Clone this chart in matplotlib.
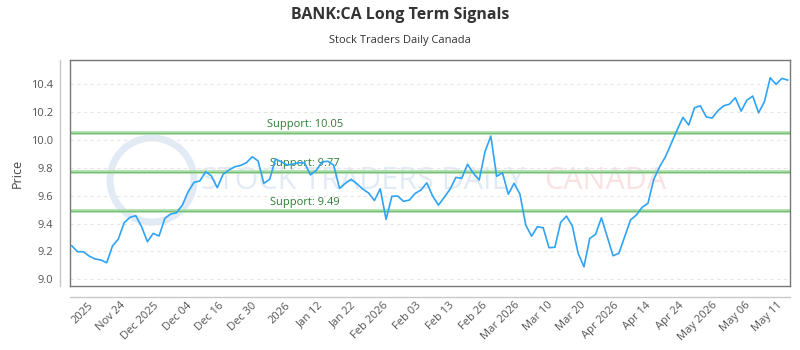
import numpy as np
import matplotlib
matplotlib.use('Agg')
import matplotlib.pyplot as plt
from matplotlib.lines import Line2D
from matplotlib.patches import Ellipse

plt.rcParams['font.family'] = ['Open Sans', 'DejaVu Sans']

# ── Data ──────────────────────────────────────────────────────────
prices = [
    9.241, 9.198, 9.198, 9.167, 9.146, 9.139, 9.119, 9.239, 9.289, 9.406,
    9.445, 9.457, 9.378, 9.270, 9.330, 9.311, 9.438, 9.469, 9.478, 9.533,
    9.629, 9.696, 9.706, 9.772, 9.742, 9.658, 9.754, 9.785, 9.808, 9.818,
    9.837, 9.880, 9.851, 9.689, 9.718, 9.864, 9.844, 9.820, 9.828, 9.837,
    9.837, 9.750, 9.782, 9.843, 9.848, 9.820, 9.653, 9.689, 9.718, 9.686,
    9.648, 9.620, 9.566, 9.650, 9.431, 9.596, 9.598, 9.560, 9.569, 9.617,
    9.641, 9.693, 9.598, 9.533, 9.589, 9.648, 9.732, 9.725, 9.826, 9.761,
    9.713, 9.916, 10.029, 9.740, 9.765, 9.612, 9.689, 9.612, 9.390, 9.310,
    9.378, 9.370, 9.227, 9.230, 9.409, 9.454, 9.383, 9.187, 9.090, 9.294,
    9.323, 9.442, 9.306, 9.169, 9.187, 9.306, 9.426, 9.462, 9.517, 9.546,
    9.718, 9.808, 9.880, 9.976, 10.072, 10.163, 10.108, 10.232, 10.246, 10.167,
    10.158, 10.210, 10.246, 10.258, 10.304, 10.208, 10.287, 10.316, 10.196, 10.275,
    10.447, 10.400, 10.443, 10.431,
]
x_labels = ['2025', 'Nov 24', 'Dec 2025', 'Dec 04', 'Dec 16', 'Dec 30', '2026',
            'Jan 12', 'Jan 22', 'Feb 2026', 'Feb 03', 'Feb 13', 'Feb 26',
            'Mar 2026', 'Mar 10', 'Mar 20', 'Apr 2026', 'Apr 14', 'Apr 24',
            'May 2026', 'May 06', 'May 11']
support_levels = [10.05, 9.77, 9.49]
y_ticks = [9.0, 9.2, 9.4, 9.6, 9.8, 10.0, 10.2, 10.4]

# ── Figure ────────────────────────────────────────────────────────
fig = plt.figure(figsize=(8, 3.5), dpi=100)
ax = fig.add_axes([70 / 800, 1 - 286 / 350, 720 / 800, 226 / 350])

xs = np.arange(len(prices))
ax.set_xlim(-0.3, len(prices) - 0.6)
ax.set_ylim(8.952, 10.575)

# watermark
ax.add_patch(Ellipse((152 / 800, 1 - 180 / 350), 84 / 800, 84 / 350,
                     transform=fig.transFigure, fill=False, lw=5, ec='#e2ebf5', zorder=0))
ax.text(0.182, 0.465, 'STOCK TRADERS DAILY', transform=ax.transAxes, fontsize=22,
        fontweight='medium', color='#e2ebf5', ha='left', va='center', zorder=0)
ax.text(0.658, 0.465, 'CANADA', transform=ax.transAxes, fontsize=22,
        fontweight='medium', color='#fbe2e2', ha='left', va='center', zorder=0)

# grid
for yt in y_ticks:
    ax.axhline(yt, color='#e6e6e6', lw=0.8, ls=(0, (3, 3)), zorder=1)

# support lines
for lvl in support_levels:
    ax.axhline(lvl, color='#a9dba9', lw=2.6, zorder=2)
    ax.axhline(lvl, color='#73bf73', lw=0.7, zorder=2)
    ax.text(0.326, lvl + 0.022, f'Support: {lvl:.2f}', transform=ax.get_yaxis_transform(),
            ha='center', va='bottom', fontsize=8, color='#2e7d32', zorder=3)

ax.plot(xs, prices, color='#2fa3f5', lw=1.2, zorder=4)

# axes styling
for sp in ax.spines.values():
    sp.set_color('#777777')
    sp.set_linewidth(1.0)
ax.set_yticks(y_ticks)
ax.set_yticklabels([f'{v:.1f}' for v in y_ticks])
tick_pos = np.linspace(2.7, 121.2, len(x_labels))
ax.set_xticks(tick_pos)
ax.set_xticklabels(x_labels, rotation=45, ha='right', va='top', rotation_mode='anchor')
ax.tick_params(axis='y', length=0, pad=12, labelsize=8, labelcolor='#555555')
ax.tick_params(axis='x', length=0, pad=10, labelsize=8, labelcolor='#555555')

# detached axis lines
fig.add_artist(Line2D([60 / 800, 60 / 800], [1 - 60 / 350, 1 - 286 / 350],
                      color='#c8c8c8', lw=1))
fig.add_artist(Line2D([70 / 800, 790 / 800], [1 - 297 / 350, 1 - 297 / 350],
                      color='#c8c8c8', lw=1))

fig.text(17 / 800, 1 - 173 / 350, 'Price', rotation=90, ha='center', va='center',
         fontsize=9, color='#444444')
fig.text(0.5, 1 - 15 / 350, 'BANK:CA Long Term Signals', ha='center', va='center',
         fontsize=11.5, fontweight='bold', color='#333333')
fig.text(0.5, 1 - 40 / 350, 'Stock Traders Daily Canada', ha='center', va='center',
         fontsize=8, color='#333333')

fig.savefig('out.png', dpi=100)
